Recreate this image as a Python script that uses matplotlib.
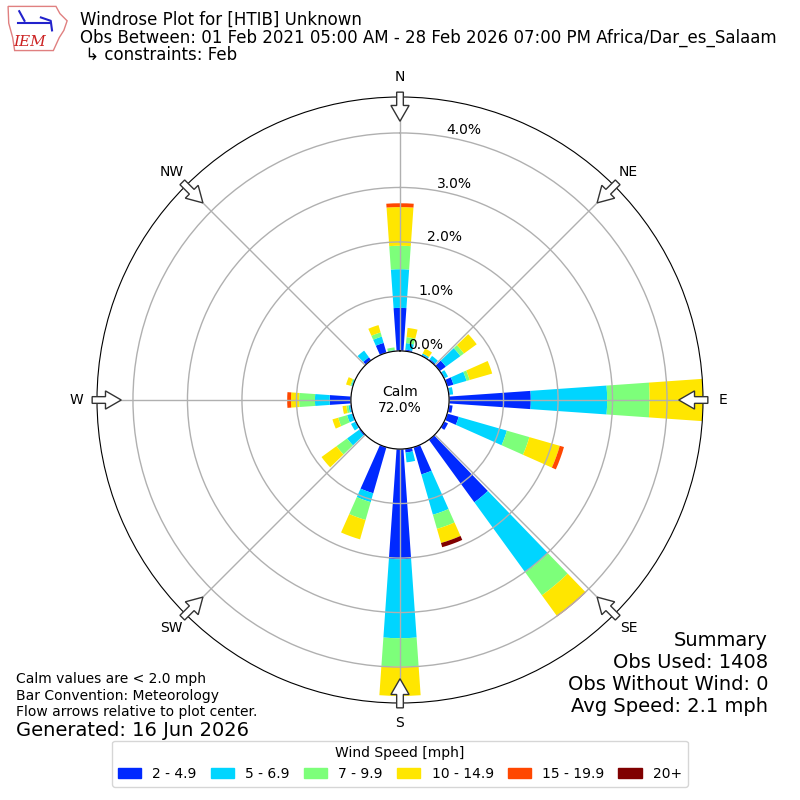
import numpy as np
import matplotlib
matplotlib.use("Agg")
import matplotlib.pyplot as plt
from matplotlib.patches import FancyArrow, Rectangle, Polygon

# direction bins every 10 deg, values are percent of all obs
directions = np.arange(0, 360, 10)
#                0     10    20    30    40    50    60    70    80    90    100   110   120  130  140   150  160   170   180   190  200   210  220  230   240   250   260   270   280  290   300  310  320   330  340   350
spd_2_5 = [0.79, 0.03, 0.00, 0.02, 0.03, 0.14, 0.02, 0.12, 0.02, 1.50, 0.07, 0.22, 0.08, 0.0, 1.42, 0.0, 0.52, 0.07, 2.02, 0.0, 0.88, 0.0, 0.0, 0.03, 0.02, 0.02, 0.02, 0.39, 0.0, 0.01, 0.0, 0.0, 0.07, 0.0, 0.19, 0.01]
spd_5_7 = [0.71, 0.12, 0.00, 0.03, 0.07, 0.33, 0.06, 0.25, 0.06, 1.40, 0.00, 0.92, 0.00, 0.0, 1.59, 0.0, 0.77, 0.18, 1.45, 0.0, 0.17, 0.0, 0.0, 0.27, 0.08, 0.09, 0.03, 0.27, 0.0, 0.02, 0.0, 0.0, 0.15, 0.0, 0.12, 0.01]
spd_7_10 = [0.43, 0.11, 0.00, 0.00, 0.00, 0.08, 0.00, 0.06, 0.00, 0.78, 0.00, 0.43, 0.00, 0.0, 0.52, 0.0, 0.27, 0.00, 0.52, 0.0, 0.34, 0.0, 0.0, 0.24, 0.00, 0.17, 0.04, 0.29, 0.0, 0.02, 0.0, 0.0, 0.00, 0.0, 0.08, 0.05]
spd_10_15 = [0.71, 0.17, 0.00, 0.10, 0.00, 0.29, 0.00, 0.43, 0.00, 0.98, 0.00, 0.58, 0.00, 0.0, 0.46, 0.0, 0.27, 0.00, 0.54, 0.0, 0.37, 0.0, 0.0, 0.34, 0.00, 0.11, 0.07, 0.15, 0.0, 0.08, 0.0, 0.0, 0.00, 0.0, 0.14, 0.00]
spd_15_20 = [0.07, 0.00, 0.00, 0.00, 0.00, 0.00, 0.00, 0.00, 0.00, 0.00, 0.00, 0.08, 0.00, 0.0, 0.02, 0.0, 0.00, 0.00, 0.00, 0.0, 0.00, 0.0, 0.0, 0.00, 0.00, 0.00, 0.00, 0.07, 0.0, 0.00, 0.0, 0.0, 0.00, 0.0, 0.00, 0.00]
spd_20p = [0.00, 0.00, 0.00, 0.00, 0.00, 0.00, 0.00, 0.00, 0.00, 0.00, 0.00, 0.00, 0.00, 0.0, 0.00, 0.0, 0.08, 0.00, 0.00, 0.0, 0.00, 0.0, 0.0, 0.00, 0.00, 0.00, 0.00, 0.00, 0.0, 0.00, 0.0, 0.0, 0.00, 0.0, 0.00, 0.00]
speed_labels = ["2 - 4.9", "5 - 6.9", "7 - 9.9", "10 - 14.9", "15 - 19.9", "20+"]
calm_pct = 72.0
rticks = [0, 1, 2, 3, 4]
compass = ["N", "NE", "E", "SE", "S", "SW", "W", "NW"]

fig = plt.figure(figsize=(8, 8), dpi=100)
ax = fig.add_axes([0.12125, 0.12125, 0.7575, 0.7575], projection="polar")
ax.set_theta_zero_location("N")
ax.set_theta_direction(-1)

colors = plt.cm.jet(np.linspace(0, 1, 7)[1:])
theta = np.deg2rad(directions)
base = np.zeros(len(directions))
for vals, c, lab in zip([spd_2_5, spd_5_7, spd_7_10, spd_10_15, spd_15_20, spd_20p],
                        colors, speed_labels):
    ax.bar(theta, vals, width=np.deg2rad(8), bottom=base, color=c, lw=0, label=lab)
    base = base + np.array(vals)

ax.set_ylim(0, base.max())
ax.set_rorigin(-0.9)
ax.set_rgrids(rticks, ["%.1f%%" % t for t in rticks], angle=10, fontsize=10)
ax.set_thetagrids(np.arange(0, 360, 45), compass, fontsize=10)
ax.tick_params(axis="x", pad=4)
ax.grid(color="#b0b0b0", lw=1)

ax.text(0.5, 0.5, "Calm\n%.1f%%" % calm_pct, transform=ax.transAxes,
        ha="center", va="center", fontsize=10)

# hollow flow arrows on the rim
for a in range(0, 360, 45):
    ux, uy = np.sin(np.deg2rad(a)), np.cos(np.deg2rad(a))
    arr = FancyArrow(0.5 + 0.508 * ux, 0.5 + 0.508 * uy, -0.048 * ux, -0.048 * uy,
                     width=0.011, head_width=0.03, head_length=0.026,
                     length_includes_head=True, transform=ax.transAxes,
                     fc="white", ec="#333333", lw=1, clip_on=False, zorder=5)
    ax.add_patch(arr)

# header
fig.text(0.1, 1 - 20 / 800, "Windrose Plot for [HTIB] Unknown", fontsize=12, va="center")
fig.text(0.1, 1 - 38 / 800,
         "Obs Between: 01 Feb 2021 05:00 AM - 28 Feb 2026 07:00 PM Africa/Dar_es_Salaam",
         fontsize=12, va="center")
fig.text(0.1, 1 - 55 / 800, " \u21b3 constraints: Feb", fontsize=12, va="center")

# rough IEM logo
lax = fig.add_axes([0.006, 0.935, 0.082, 0.06])
lax.set_xlim(0, 1)
lax.set_ylim(0, 1)
lax.axis("off")
lax.add_patch(Polygon([(0.05, 0.95), (0.78, 0.95), (0.84, 0.8), (0.95, 0.65), (0.9, 0.45),
                       (0.83, 0.3), (0.78, 0.15), (0.74, 0.03), (0.15, 0.03), (0.12, 0.3),
                       (0.06, 0.6)], closed=True, fill=False, ec="#e08080", lw=1))
lax.plot([0.2, 0.68], [0.6, 0.6], color="#2222cc", lw=1.5)
lax.plot([0.22, 0.3], [0.85, 0.65], color="#2222cc", lw=1.5)
lax.plot([0.55, 0.7, 0.72], [0.72, 0.65, 0.45], color="#2222cc", lw=1.5)
lax.text(0.38, 0.2, "IEM", color="#cc2222", fontsize=11, family="DejaVu Serif",
         style="italic", ha="center", va="center")

# footer notes
fig.text(16 / 800, 1 - 679 / 800, "Calm values are < 2.0 mph", fontsize=10, va="center")
fig.text(16 / 800, 1 - 696 / 800, "Bar Convention: Meteorology", fontsize=10, va="center")
fig.text(16 / 800, 1 - 712 / 800, "Flow arrows relative to plot center.", fontsize=10, va="center")
fig.text(16 / 800, 1 - 730 / 800, "Generated: 16 Jun 2026", fontsize=14, va="center")

summary = ["Summary", "Obs Used: 1408", "Obs Without Wind: 0", "Avg Speed: 2.1 mph"]
for i, s in enumerate(summary):
    fig.text(768 / 800, 1 - (640 + 22 * i) / 800, s, fontsize=14, ha="right", va="center")

handles = [Rectangle((0, 0), 1, 1, color=c) for c in colors]
fig.legend(handles, speed_labels, loc="lower center", bbox_to_anchor=(0.5, 0.008),
           ncol=6, fontsize=10, title="Wind Speed [mph]", title_fontsize=10,
           handlelength=1.7, columnspacing=1.0)

fig.savefig("out.png", dpi=100)
